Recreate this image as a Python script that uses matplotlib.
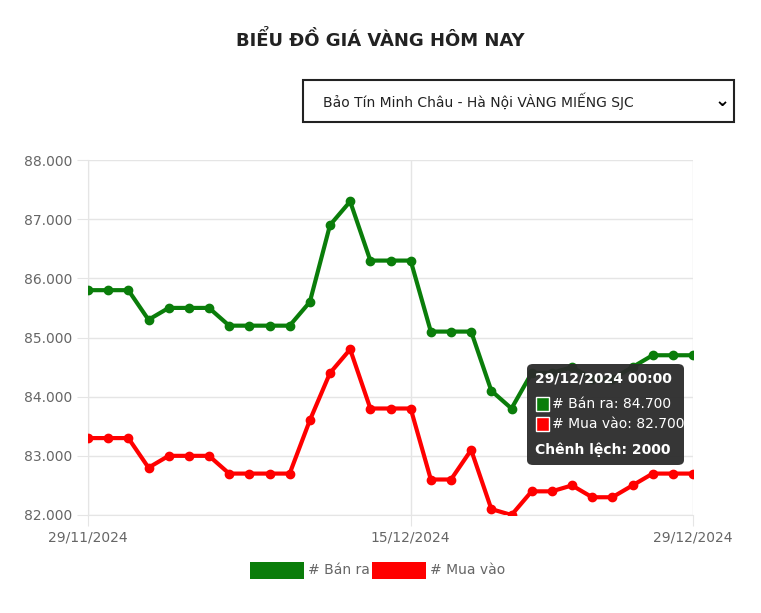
import matplotlib
matplotlib.use("Agg")
import matplotlib.pyplot as plt
from matplotlib.patches import FancyBboxPatch, Rectangle

days = list(range(31))
tick_labels = ["29/11/2024", "15/12/2024", "29/12/2024"]
tick_days = [0, 16, 30]
ban_ra = [85.8,85.8,85.8,85.3,85.5,85.5,85.5,85.2,85.2,85.2,85.2,85.6,86.9,87.3,86.3,86.3,86.3,
          85.1,85.1,85.1,84.1,83.8,84.4,84.4,84.5,84.3,84.3,84.5,84.7,84.7,84.7]
mua_vao = [83.3,83.3,83.3,82.8,83.0,83.0,83.0,82.7,82.7,82.7,82.7,83.6,84.4,84.8,83.8,83.8,83.8,
           82.6,82.6,83.1,82.1,82.0,82.4,82.4,82.5,82.3,82.3,82.5,82.7,82.7,82.7]
y_ticks = [82, 83, 84, 85, 86, 87, 88]

W, H = 761, 613
fig = plt.figure(figsize=(W/100, H/100), dpi=100)
ax = fig.add_axes([88/W, 1-515/H, (693-88)/W, (515-160)/H])
ax.plot(days, ban_ra, color="#0a7d0a", lw=3, marker="o", ms=6, zorder=3)
ax.plot(days, mua_vao, color="#ff0000", lw=3, marker="o", ms=6, zorder=3)
ax.set_xlim(0, 30); ax.set_ylim(82, 88)
ax.set_xticks(tick_days); ax.set_xticklabels(tick_labels, color="#666", fontsize=10)
ax.set_yticks(y_ticks)
ax.set_yticklabels([f"{v:.3f}" for v in y_ticks], color="#666", fontsize=10)
ax.grid(True, color="#e5e5e5", lw=1)
for s in ax.spines.values(): s.set_color("#e5e5e5")
ax.tick_params(length=8, color="#e5e5e5")
for s in ["top", "right"]: ax.spines[s].set_visible(False)

fig.text(380/W, 1-40/H, "BIỂU ĐỒ GIÁ VÀNG HÔM NAY", ha="center", va="center",
         fontsize=13, fontweight="bold", color="#222")
fig.patches.append(Rectangle((303/W, 1-122/H), 431/W, 42/H, transform=fig.transFigure,
                             fill=False, ec="#222", lw=1.5))
fig.text(323/W, 1-101/H, "Bảo Tín Minh Châu - Hà Nội VÀNG MIẾNG SJC", va="center", fontsize=10, color="#222")
fig.text(722/W, 1-101/H, "⌄", ha="center", va="center", fontsize=13, fontweight="bold")

# tooltip
tx, ty, tw, th = 527, 364, 157, 101
fig.patches.append(FancyBboxPatch((tx/W, 1-(ty+th)/H), tw/W, th/H, boxstyle="round,pad=0,rounding_size=0.008",
                                  transform=fig.transFigure, fc="#2b2b2b", ec="none", alpha=0.95, zorder=10))
fig.text(535/W, 1-378/H, "29/12/2024 00:00", color="white", fontsize=10, fontweight="bold", va="center", zorder=11)
for yy, c, t in [(404, "#0a7d0a", "# Bán ra: 84.700"), (424, "#ff0000", "# Mua vào: 82.700")]:
    fig.patches.append(Rectangle((536/W, 1-(yy+7)/H), 13/W, 14/H, transform=fig.transFigure,
                                 fc=c, ec="white", lw=1, zorder=11))
    fig.text(552/W, 1-yy/H, t, color="white", fontsize=10, va="center", zorder=11)
fig.text(535/W, 1-450/H, "Chênh lệch: 2000", color="white", fontsize=10, fontweight="bold", va="center", zorder=11)

# legend
for x0, c, t in [(250, "#0a7d0a", "# Bán ra"), (372, "#ff0000", "# Mua vào")]:
    fig.patches.append(Rectangle((x0/W, 1-579/H), 54/W, 17/H, transform=fig.transFigure, fc=c, ec="none"))
    fig.text((x0+58)/W, 1-570/H, t, color="#666", fontsize=10, va="center")

fig.savefig("out.png", dpi=100)
